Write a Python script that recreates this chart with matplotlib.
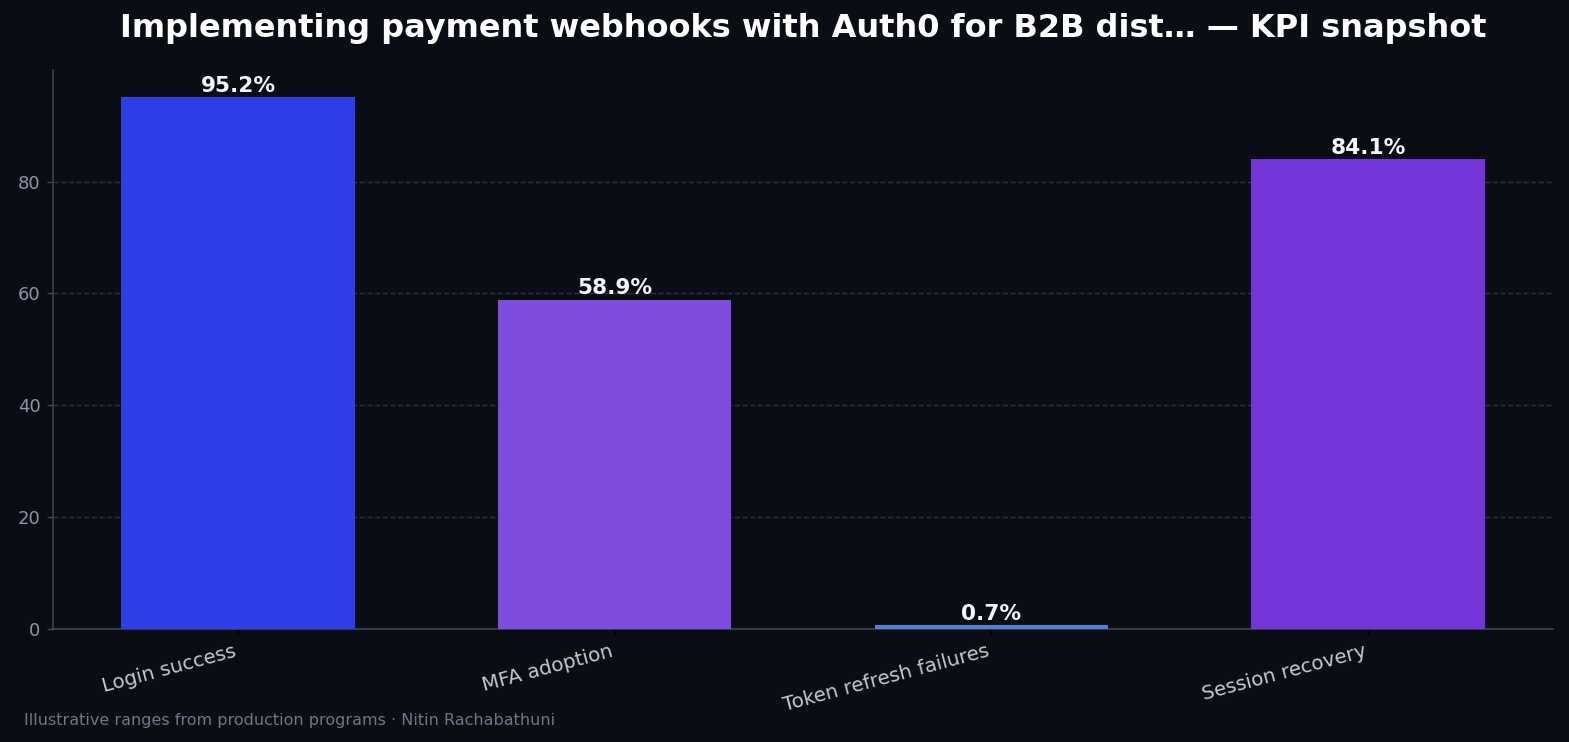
import matplotlib
matplotlib.use("Agg")
import matplotlib.pyplot as plt

plt.rcParams["font.family"] = ["DejaVu Sans"]

# KPI values (percent)
categories = ["Login success", "MFA adoption", "Token refresh failures", "Session recovery"]
values = [95.2, 58.9, 0.7, 84.1]
bar_colors = ["#2e3fea", "#7d4ddd", "#4f7fd8", "#7335d9"]

title = "Implementing payment webhooks with Auth0 for B2B dist\u2026 \u2014 KPI snapshot"
footer = "Illustrative ranges from production programs \u00b7 Nitin Rachabathuni"

bg = "#0a0d14"
k = 1.3  # text scale

fig = plt.figure(figsize=(15.69, 7.42), dpi=100, facecolor=bg)
ax = fig.add_axes([53 / 1569, 1 - 629 / 742, 1500 / 1569, 559 / 742])
ax.set_facecolor(bg)

x = range(len(categories))
bars = ax.bar(x, values, width=0.62, color=bar_colors, zorder=3)
ax.set_ylim(0, max(values) * 1.05)

for b, v in zip(bars, values):
    ax.text(b.get_x() + b.get_width() / 2, v + 0.2, f"{v:.1f}%",
            ha="center", va="bottom", color="#f4f6fa", fontsize=12 * k,
            fontweight="bold", zorder=4)

ax.set_xticks(list(x))
ax.set_xticklabels(categories, rotation=15, ha="right", color="#c3cad6", fontsize=11 * k)
ax.tick_params(axis="x", colors="#000000", length=3.5 * k, pad=3.5 * k,
               width=0.8 * k, labelcolor="#c3cad6")
ax.tick_params(axis="y", colors="#3a4558", labelcolor="#8a96a8", labelsize=10 * k,
               length=3.5 * k, width=0.8 * k, pad=3.5 * k)
ax.set_yticks([0, 20, 40, 60, 80])

ax.yaxis.grid(True, linestyle="--", color="#2a3246", linewidth=0.8 * k, zorder=0)
ax.xaxis.grid(False)
for s in ["top", "right"]:
    ax.spines[s].set_visible(False)
for s in ["left", "bottom"]:
    ax.spines[s].set_color("#3a4558")
    ax.spines[s].set_linewidth(0.9 * k)

# title centred over the axes
ax.set_title(title, color="#ffffff", fontsize=23, fontweight="bold", pad=24)
fig.text(24 / 1569, 1 - 720 / 742, footer, ha="left", va="center",
         color="#6b778a", fontsize=11.5)

fig.savefig("out.png", dpi=100, facecolor=bg)
